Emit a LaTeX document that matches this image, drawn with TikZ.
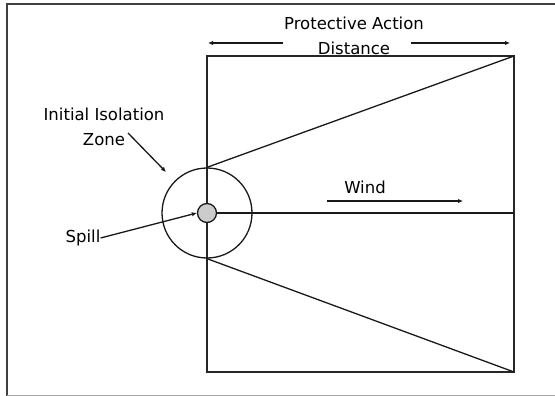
\documentclass[tikz,border=0pt]{standalone}
\usepackage{fontspec}
\setmainfont{DejaVu Sans}
\usetikzlibrary{arrows.meta}
\begin{document}
\begin{tikzpicture}[x=1pt,y=-1pt,
  lbl/.style={font=\fontsize{16.5}{25}\selectfont, inner sep=0pt, align=center},
  thinl/.style={line width=1.3pt, black!90},
  tip/.style={-{Latex[length=5pt,width=4.5pt]}}]
\useasboundingbox (0,0) rectangle (555,396);
% frame
\draw[line width=1.6pt, black!75] (7,397) -- (7,4) -- (557,4);
\draw[line width=1pt, black!35] (7,395) -- (557,395);
% rectangle
\coordinate (tl) at (207,56);
\coordinate (tr) at (514,56);
\coordinate (br) at (514,372);
\coordinate (wr) at (514,213);
\draw[line width=1.8pt, black!85] (tl) rectangle (br);
% isolation circle and spill
\node[circle, draw, thinl, minimum size=90pt, inner sep=0pt] (iz) at (207,213) {};
\draw[thinl] (iz.north) -- (tr);
\draw[thinl] (iz.south) -- (br);
\node[circle, draw, thinl, fill=gray!40, minimum size=19pt, inner sep=0pt] (spill) at (207,213) {};
\draw[thinl] (spill.east) -- (wr);
% protective action distance
\node[lbl] (pad) at (354,36) {Protective Action\\Distance};
\coordinate (pl1) at (283,43);
\coordinate (pl2) at (208,43);
\coordinate (pr1) at (411,43);
\coordinate (pr2) at (510,43);
\draw[thinl, tip] (pl1) -- (pl2);
\draw[thinl, tip] (pr1) -- (pr2);
% wind
\node[lbl] (wind) at (365,187) {Wind};
\coordinate (w1) at (327,201);
\coordinate (w2) at (463,201);
\draw[thinl, tip] (w1) -- (w2);
% labels
\node[lbl] (izl) at (104,127) {Initial Isolation\\Zone};
\coordinate (za) at (128,133);
\coordinate (zb) at (166,172);
\draw[thinl, tip] (za) -- (zb);
\node[lbl] (spl) at (83,238) {Spill};
\draw[thinl, tip] (spl.east) -- (spill.west);
\end{tikzpicture}
\end{document}
